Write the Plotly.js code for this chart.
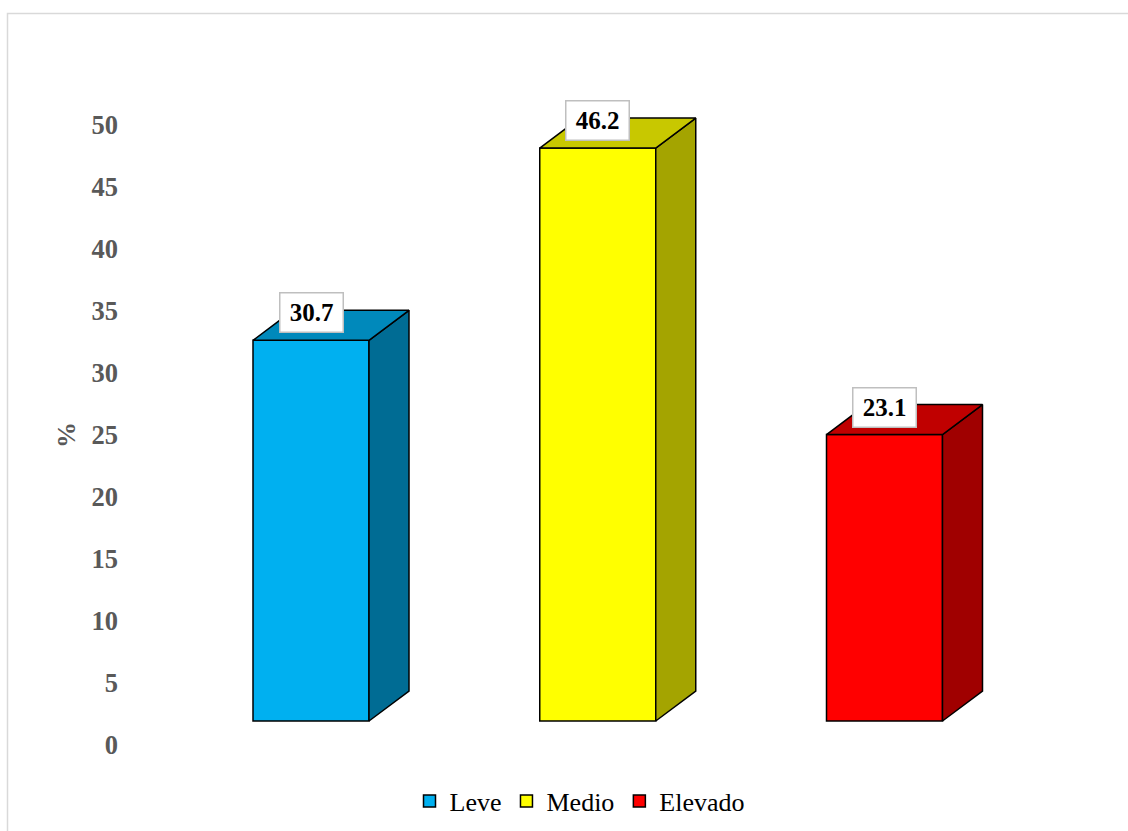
<!DOCTYPE html>
<html>
<head>
<meta charset="utf-8">
<script src="https://cdn.plot.ly/plotly-3.0.1.min.js"></script>
<style>html,body{margin:0;padding:0;background:#fff;}#chart{width:1128px;height:831px;}</style>
</head>
<body>
<div id="chart"></div>
<script>
// ---- data ----
const categories = ["Leve", "Medio", "Elevado"];
const values = [30.7, 46.2, 23.1];
const frontColors = ["#00B0F0", "#FFFF00", "#FF0000"];
const topColors = ["#0089BB", "#C8C800", "#C00000"];
const sideColors = ["#006C94", "#A4A400", "#A00000"];
const tickValues = [0, 5, 10, 15, 20, 25, 30, 35, 40, 45, 50];

// ---- layout geometry ----
const W = 1128, H = 831;
const M = {l: 119, r: 28, t: 100, b: 71};
const plotW = W - M.l - M.r, plotH = H - M.t - M.b;
const pxPerUnitY = 12.4, pxPerCat = 286.75;
const yUnits = plotH / pxPerUnitY;
const y1min = -15 / pxPerUnitY;            // tick label axis
const y2min = -39 / pxPerUnitY;            // bar axis (floor offset)
const xmin = -(311 - M.l) / pxPerCat;
const xmax = xmin + plotW / pxPerCat;
const barW = 116 / pxPerCat;
const dx = 40 / pxPerCat, dy = 30 / pxPerUnitY;
const px2pX = p => (p - M.l) / plotW;
const px2pY = p => (H - M.b - p) / plotH;
const SERIF = 'Liberation Serif, Times New Roman, serif';

const traces = [];
// invisible trace so the labelled y axis is drawn
traces.push({type: 'scatter', mode: 'markers', x: [0], y: [0], yaxis: 'y',
             marker: {opacity: 0}, showlegend: false, hoverinfo: 'skip'});
categories.forEach((c, i) => {
  traces.push({
    type: 'bar', x: [i], y: [values[i]], name: c, width: barW,
    yaxis: 'y2', marker: {color: frontColors[i], line: {color: '#000', width: 1.5}},
    hoverinfo: 'x+y'
  });
});
categories.forEach((c, i) => {
  const v = values[i], l = i - barW / 2, r = i + barW / 2;
  traces.push({
    type: 'scatter', mode: 'lines', yaxis: 'y2', showlegend: false, hoverinfo: 'skip',
    x: [r, r + dx, r + dx, r, r], y: [0, dy, v + dy, v, 0],
    fill: 'toself', fillcolor: sideColors[i], line: {color: '#000', width: 1.5}
  });
  traces.push({
    type: 'scatter', mode: 'lines', yaxis: 'y2', showlegend: false, hoverinfo: 'skip',
    x: [l, r, r + dx, l + dx, l], y: [v, v, v + dy, v + dy, v],
    fill: 'toself', fillcolor: topColors[i], line: {color: '#000', width: 1.5}
  });
});

const annotations = categories.map((c, i) => ({
  xref: 'x', yref: 'y2', x: i, y: values[i], yshift: 27.5, showarrow: false,
  text: '<b>' + values[i].toFixed(1) + '</b>',
  font: {family: SERIF, size: 25, color: '#000'},
  bgcolor: '#fff', bordercolor: '#BFBFBF', borderwidth: 1.5, borderpad: 3,
  width: 56, height: 32, xanchor: 'center', yanchor: 'middle'
}));
annotations.push({
  xref: 'paper', yref: 'paper', x: px2pX(66), y: px2pY(435), showarrow: false,
  text: '<b>%</b>', textangle: -90,
  font: {family: SERIF, size: 26, color: '#595959'},
  xanchor: 'center', yanchor: 'middle'
});

const layout = {
  width: W, height: H, margin: {l: M.l, r: M.r, t: M.t, b: M.b, autoexpand: false},
  paper_bgcolor: '#fff', plot_bgcolor: '#fff', barmode: 'overlay',
  showlegend: true,
  legend: {orientation: 'h', x: px2pX(580), xanchor: 'center', y: px2pY(801), yanchor: 'middle',
           font: {family: SERIF, size: 26, color: '#000'}, itemwidth: 30,
           bgcolor: 'rgba(0,0,0,0)'},
  xaxis: {range: [xmin, xmax], showticklabels: false, showgrid: false, zeroline: false,
          showline: false, ticks: '', fixedrange: true},
  yaxis: {range: [y1min, y1min + yUnits], tickvals: tickValues, ticktext: tickValues.map(String),
          tickmode: 'array', showticklabels: true, visible: true,
          showgrid: false, zeroline: false, showline: false, ticks: '',
          tickfont: {family: SERIF, size: 26.5, color: '#595959', weight: 'bold'}},
  yaxis2: {range: [y2min, y2min + yUnits], overlaying: 'y', side: 'left',
           showticklabels: false, showgrid: false, zeroline: false, showline: false, ticks: ''},
  annotations: annotations,
  shapes: [{type: 'rect', xref: 'paper', yref: 'paper', layer: 'below',
            x0: px2pX(7.5), x1: px2pX(1140), y0: px2pY(845), y1: px2pY(13.5),
            line: {color: '#D9D9D9', width: 1.5}, fillcolor: 'rgba(0,0,0,0)'}]
};

Plotly.newPlot('chart', traces, layout, {displayModeBar: false, staticPlot: true});
</script>
</body>
</html>
